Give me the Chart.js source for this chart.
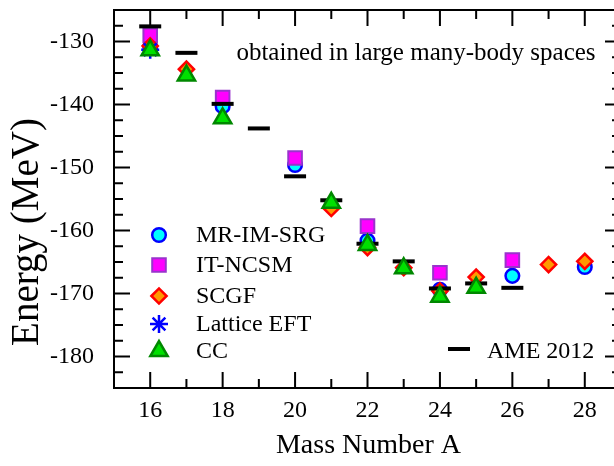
<!DOCTYPE html>
<html><head><meta charset="utf-8">
<script src="https://cdn.jsdelivr.net/npm/chart.js@4.4.1/dist/chart.umd.min.js"></script>
<style>html,body{margin:0;padding:0;background:#fff;overflow:hidden;width:614px;height:466px}canvas{display:block}</style>
</head><body>
<canvas id="c" width="622" height="466"></canvas>
<script>
// ---- data ----
const massNumbers = [16, 17, 18, 19, 20, 21, 22, 23, 24, 25, 26, 27, 28];
const mrImSrg   = [-130.8, null, -140.3, null, -149.6, null, -161.6, null, -169.4, null, -167.2, null, -165.8];
const itNcsm    = [-129.0, null, -138.9, null, -148.5, null, -159.3, null, -166.7, null, -164.7, null, null];
const scgf      = [-130.7, -134.4, null, null, null, -156.5, -162.7, -165.9, -169.6, -167.4, null, -165.4, -164.9];
const latticeEft= [-131.3, null, null, null, null, null, null, null, null, null, null, null, null];
const cc        = [-131.4, -135.4, -142.2, null, null, -155.6, -162.3, -166.0, -170.5, -169.1, null, null, null];
const ame2012   = [-127.6, -131.8, -139.9, -143.8, -151.4, -155.2, -162.1, -164.9, -169.2, -168.4, -169.1, null, null];
const xTickLabels = [16, 18, 20, 22, 24, 26, 28];
const yTickLabels = [-130, -140, -150, -160, -170, -180];
const seriesNames = ['MR-IM-SRG', 'IT-NCSM', 'SCGF', 'Lattice EFT', 'CC', 'AME 2012'];
const xTitle = 'Mass Number A';
const yTitle = 'Energy (MeV)';
const note = 'obtained in large many-body spaces';

const serif = '"Liberation Serif", "Times New Roman", serif';

function pts(vals) {
  const out = [];
  vals.forEach((v, i) => { if (v !== null) out.push({x: massNumbers[i], y: v}); });
  return out;
}

const styles = [
  {pointStyle: 'circle',  radius: 6.8, bg: '#00FFFF', border: '#0000FF', bw: 2.5, order: 5},
  {pointStyle: 'rect',    radius: 9.6, bg: '#FF00FF', border: '#9933CC', bw: 2,   order: 4},
  {pointStyle: 'rectRot', radius: 7.6, bg: '#FF9900', border: '#FF0000', bw: 2.5, order: 3},
  {pointStyle: 'star',    radius: 9,   bg: '#0000FF', border: '#0000FF', bw: 2.5, order: 1},
  {pointStyle: 'triangle',radius: 10,  bg: '#00E000', border: '#008800', bw: 2.5, order: 0},
  {pointStyle: 'line',    radius: 11,  bg: '#000000', border: '#000000', bw: 4,   order: 2}
];
const seriesVals = [mrImSrg, itNcsm, scgf, latticeEft, cc, ame2012];

const datasets = seriesVals.map((vals, i) => ({
  label: seriesNames[i],
  data: pts(vals),
  showLine: false,
  pointStyle: styles[i].pointStyle,
  pointRadius: styles[i].radius,
  pointHoverRadius: styles[i].radius,
  backgroundColor: styles[i].bg,
  borderColor: styles[i].border,
  pointBorderWidth: styles[i].bw,
  borderWidth: styles[i].bw,
  order: styles[i].order
}));

function drawMarker(ctx, st, x, y) {
  ctx.save();
  ctx.fillStyle = st.bg; ctx.strokeStyle = st.border; ctx.lineWidth = st.bw;
  Chart.helpers.drawPoint(ctx, {pointStyle: st.pointStyle, radius: st.radius, rotation: 0, borderWidth: st.bw}, x, y);
  ctx.restore();
}

const frameTicks = {
  id: 'frameTicks',
  beforeDatasetsDraw(chart) {
    const {ctx, chartArea: a, scales: {x, y}} = chart;
    ctx.save();
    ctx.strokeStyle = '#000'; ctx.lineWidth = 2; ctx.lineCap = 'butt';
    ctx.beginPath();
    ctx.rect(a.left, a.top, a.right - a.left, a.bottom - a.top);
    x.ticks.forEach(t => {
      const v = t.value; if (v <= x.min || v >= x.max) return;
      const px = x.getPixelForValue(v);
      const len = (v % 2 === 0) ? 16 : 9;
      ctx.moveTo(px, a.bottom); ctx.lineTo(px, a.bottom - len);
      ctx.moveTo(px, a.top); ctx.lineTo(px, a.top + len);
    });
    y.ticks.forEach(t => {
      const v = t.value; if (v <= y.min || v >= y.max) return;
      const py = y.getPixelForValue(v);
      const len = (v % 10 === 0) ? 16 : 9;
      ctx.moveTo(a.left, py); ctx.lineTo(a.left + len, py);
      ctx.moveTo(a.right, py); ctx.lineTo(a.right - len, py);
    });
    ctx.stroke();
    ctx.restore();
  },
  afterDraw(chart) {
    const {ctx} = chart;
    ctx.save();
    ctx.fillStyle = '#000';
    ctx.textBaseline = 'middle';
    // note
    ctx.font = '25px ' + serif;
    ctx.textAlign = 'center';
    ctx.fillText(note, 416, 53);
    // legend (left block)
    const rows = [235, 265, 296, 324, 351];
    ctx.font = '24px ' + serif;
    ctx.textAlign = 'left';
    for (let i = 0; i < 5; i++) {
      drawMarker(ctx, styles[i], 159, rows[i]);
      ctx.fillStyle = '#000';
      ctx.fillText(seriesNames[i], 196, rows[i] + 1);
    }
    drawMarker(ctx, styles[5], 459, 349);
    ctx.fillStyle = '#000';
    ctx.fillText(seriesNames[5], 487, 352);
    // axis titles
    ctx.font = '28px ' + serif;
    ctx.textAlign = 'center';
    ctx.fillText(xTitle, 368.5, 446);
    ctx.save();
    ctx.translate(28, 232);
    ctx.rotate(-Math.PI / 2);
    ctx.font = '39px ' + serif;
    ctx.fillText(yTitle, 0, 0);
    ctx.restore();
    ctx.restore();
  }
};

new Chart(document.getElementById('c'), {
  type: 'scatter',
  data: {datasets},
  options: {
    responsive: false,
    animation: false,
    devicePixelRatio: 1,
    layout: {autoPadding: false, padding: {top: 10, right: 1, left: 0, bottom: 0}},
    plugins: {legend: {display: false}, tooltip: {enabled: false}},
    events: [],
    scales: {
      x: {
        type: 'linear', min: 15, max: 29,
        grid: {display: false}, border: {display: false},
        afterFit: s => { s.height = 78; s.paddingLeft = 0; s.paddingRight = 0; },
        ticks: {
          stepSize: 1, includeBounds: false, autoSkip: false, maxRotation: 0, padding: 0,
          color: '#000', font: {family: serif, size: 24},
          callback: v => xTickLabels.includes(v) ? String(v) : ''
        }
      },
      y: {
        type: 'linear', min: -185, max: -125,
        grid: {display: false}, border: {display: false},
        afterFit: s => { s.width = 114; s.paddingTop = 0; s.paddingBottom = 0; },
        ticks: {
          stepSize: 2.5, includeBounds: false, autoSkip: false, padding: 12,
          color: '#000', font: {family: serif, size: 24},
          callback: v => yTickLabels.includes(v) ? String(v) : ''
        }
      }
    }
  },
  plugins: [frameTicks]
});
</script>
</body></html>
